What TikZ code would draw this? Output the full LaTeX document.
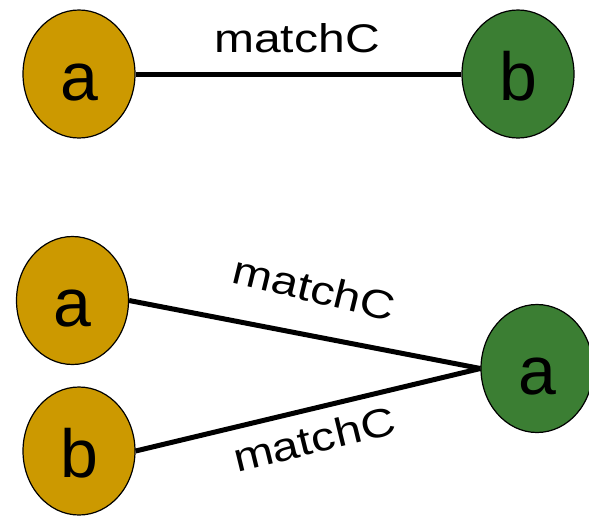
\documentclass[tikz,border=0pt]{standalone}
\usepackage{fontspec}
\setmainfont{Liberation Sans}
\usetikzlibrary{shapes.geometric}
\definecolor{gold}{RGB}{204,153,0}
\definecolor{leaf}{RGB}{59,126,51}
\begin{document}
\begin{tikzpicture}[x=1pt,y=-1pt,
  vertex/.style={ellipse, draw=black, line width=1.2pt, inner sep=0pt,
    minimum width=112pt, minimum height=128pt,
    font=\fontsize{68}{72}\selectfont, text height=52pt, text depth=0pt},
  srcnode/.style={vertex, fill=gold},
  dstnode/.style={vertex, fill=leaf},
  conn/.style={line width=5pt, line cap=butt},
  lbl/.style={inner sep=0pt, font=\fontsize{40}{44}\selectfont}
]
\useasboundingbox (0,0) rectangle (589,515);
% top pair
\node[srcnode] (ta) at (79,74) {a};
\node[dstnode] (tb) at (518,74) {b};
\draw[conn] (ta) -- (tb);
\node[lbl] (tl) at (297,38) {\scalebox{1.2}[1]{matchC}};
% bottom group
\node[srcnode] (ba) at (72.5,300.5) {a};
\node[srcnode] (bb) at (79,451) {b};
\node[dstnode] (bg) at (537,368.5) {a};
\draw[conn] (ba.east) -- (bg.west);
\draw[conn] (bb.east) -- (bg.west);
\node[lbl, rotate=-13.7] (ul) at (314,288) {\scalebox{1.2}[1]{matchC}};
\node[lbl, rotate=13.7] (ll) at (314,439) {\scalebox{1.2}[1]{matchC}};
\end{tikzpicture}
\end{document}
